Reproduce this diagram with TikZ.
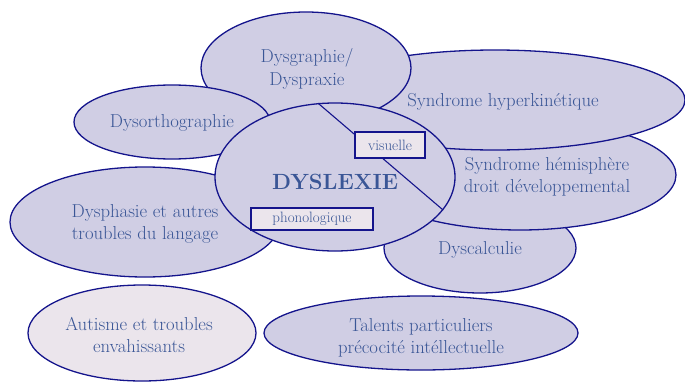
\documentclass[tikz,border=0pt]{standalone}
\usetikzlibrary{shapes.geometric}
\definecolor{lav}{HTML}{D0CEE4}
\definecolor{pinkish}{HTML}{EBE5EC}
\definecolor{navy}{HTML}{14148C}
\definecolor{txt}{HTML}{3A5696}
\begin{document}
\begin{tikzpicture}[x=1pt,y=-1pt,
  blob/.style={ellipse, draw=navy, line width=1.3pt, fill=lav, inner sep=0pt},
  lbl/.style={text=txt, font=\fontsize{18.7}{22.5}\selectfont, align=center, inner sep=0pt},
  tag/.style={draw=navy, line width=1.1pt, fill=pinkish, text=txt, font=\fontsize{15}{17}\selectfont, inner sep=0pt}]
\useasboundingbox (0,0) rectangle (685,383);
% ellipses, back to front
\node[blob, minimum width=192pt, minimum height=90pt] (calc) at (480,248) {};
\node[blob, minimum width=312pt, minimum height=110pt] (hemi) at (520,175) {};
\node[blob, minimum width=380pt, minimum height=100pt] (hyper) at (495,100) {};
\node[blob, minimum width=210pt, minimum height=112pt] (graph) at (306,68) {};
\node[blob, minimum width=196pt, minimum height=74pt] (ortho) at (172,122) {};
\node[blob, minimum width=270pt, minimum height=110pt] (phasie) at (145,222) {};
\node[blob, minimum width=240pt, minimum height=148pt] (dys) at (335,177) {};
\node[blob, fill=pinkish, minimum width=228pt, minimum height=96pt] (aut) at (142,333) {};
\node[blob, minimum width=314pt, minimum height=74pt] (tal) at (421,333) {};
% dividing line
\draw[navy, line width=1.1pt] (dys.103) -- (dys.-17);
% texts
\node[lbl] (tgraph) at (307,69) {Dysgraphie/\\Dyspraxie};
\node[lbl] (thyper) at (503,102) {Syndrome hyperkinétique};
\node[lbl] (themi) at (547,177) {Syndrome hémisphère\\droit développemental};
\node[lbl] (tcalc) at (480,250) {Dyscalculie};
\node[lbl] (tortho) at (172,123) {Dysorthographie};
\node[lbl] (tphasie) at (145,224) {Dysphasie et autres\\troubles du langage};
\node[lbl] (taut) at (139,335) {Autisme et troubles\\envahissants};
\node[lbl] (ttal) at (421,338) {Talents particuliers\\précocité intéllectuelle};
\node[text=txt, font=\fontsize{22}{26}\selectfont\bfseries, inner sep=0pt] (tdys) at (335,182) {DYSLEXIE};
% tags
\node[tag, minimum width=70pt, minimum height=26pt] (vis) at (390,145) {visuelle};
\node[tag, minimum width=122pt, minimum height=22pt] (phon) at (312,219) {phonologique};
\end{tikzpicture}
\end{document}
